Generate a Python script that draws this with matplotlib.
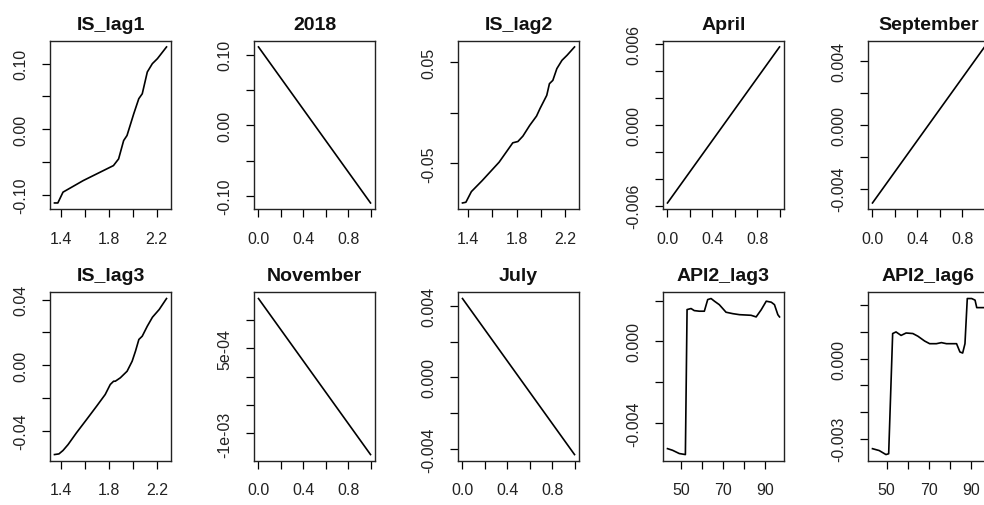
import matplotlib
matplotlib.use("Agg")
import matplotlib.pyplot as plt

plt.rcParams["font.family"] = ["Liberation Sans", "DejaVu Sans"]

# ── Partial-dependence curves ───────────────────────────────────────────
IS_LAG1_X = [1.349, 1.377, 1.420, 1.588, 1.840, 1.883, 1.925, 1.953, 2.009,
             2.051, 2.080, 2.122, 2.164, 2.206, 2.282]
IS_LAG1_Y = [-0.1125, -0.1125, -0.096, -0.0784, -0.0555, -0.0453, -0.0173,
             -0.0096, 0.0235, 0.0465, 0.0541, 0.0873, 0.100, 0.1076, 0.1255]

Y2018_X = [0.0, 1.0]
Y2018_Y = [0.111, -0.110]

IS_LAG2_X = [1.355, 1.383, 1.428, 1.517, 1.656, 1.768, 1.810, 1.851, 1.907,
             1.963, 1.991, 2.047, 2.069, 2.097, 2.130, 2.172, 2.214, 2.275]
IS_LAG2_Y = [-0.0891, -0.0884, -0.0779, -0.0670, -0.0488, -0.0297, -0.0284,
             -0.0231, -0.0125, -0.0033, 0.0040, 0.0172, 0.0287, 0.0320,
             0.0436, 0.0518, 0.0568, 0.0650]

APRIL_X = [0.0, 1.0]
APRIL_Y = [-0.0058, 0.0058]

SEPTEMBER_X = [0.0, 1.0]
SEPTEMBER_Y = [-0.0049, 0.0049]

IS_LAG3_X = [1.349, 1.386, 1.420, 1.462, 1.532, 1.616, 1.700, 1.771, 1.813,
             1.841, 1.855, 1.897, 1.953, 1.995, 2.023, 2.051, 2.079, 2.121,
             2.164, 2.220, 2.281]
IS_LAG3_Y = [-0.0546, -0.0542, -0.0521, -0.0485, -0.0413, -0.0332, -0.0250,
             -0.0179, -0.0118, -0.0098, -0.0098, -0.0077, -0.0037, 0.0024,
             0.0086, 0.0157, 0.0177, 0.0238, 0.0293, 0.0340, 0.0407]

NOVEMBER_X = [0.0, 1.0]
NOVEMBER_Y = [0.00137, -0.00137]

JULY_X = [0.0, 1.0]
JULY_Y = [0.0044, -0.0043]

API2_LAG3_X = [43.6, 46.0, 49.2, 52.1, 52.9, 54.8, 56.3, 58.7, 61.1, 62.7,
               64.3, 65.9, 68.2, 71.4, 74.6, 77.8, 83.3, 85.7, 88.1, 90.5,
               92.9, 94.4, 96.0, 96.8]
API2_LAG3_Y = [-0.00525, -0.00533, -0.00549, -0.00554, 0.00156, 0.00161,
               0.00151, 0.00148, 0.00148, 0.00205, 0.00210, 0.00197, 0.00180,
               0.00143, 0.00136, 0.00131, 0.00128, 0.00120, 0.00155, 0.00197,
               0.00192, 0.00180, 0.00131, 0.00120]

API2_LAG6_X = [43.3, 46.5, 49.7, 51.0, 52.9, 54.5, 56.9, 59.3, 62.5, 64.9,
               68.1, 70.5, 73.7, 76.1, 78.5, 83.3, 84.9, 86.2, 87.3, 88.4,
               90.5, 92.1, 92.9, 96.1, 96.6]
API2_LAG6_Y = [-0.00337, -0.00344, -0.00359, -0.00356, 0.00094, 0.00100,
               0.00087, 0.00096, 0.00094, 0.00084, 0.00066, 0.00056, 0.00056,
               0.00060, 0.00056, 0.00056, 0.00025, 0.00021, 0.00056, 0.00225,
               0.00225, 0.00219, 0.00191, 0.00191, 0.00191]

# ── Axis ticks and labels (R skips labels that would overlap) ───────────
IS_X_TICKS = [1.4, 1.6, 1.8, 2.0, 2.2]
IS_X_LABELS = ["1.4", "", "1.8", "", "2.2"]
UNIT_X_TICKS = [0.0, 0.2, 0.4, 0.6, 0.8, 1.0]
UNIT_X_LABELS = ["0.0", "", "0.4", "", "0.8", ""]
API_X_TICKS = [50, 60, 70, 80, 90]
API_X_LABELS = ["50", "", "70", "", "90"]

IS_LAG1_Y_TICKS = [-0.10, -0.05, 0.00, 0.05, 0.10]
IS_LAG1_Y_LABELS = ["-0.10", "", "0.00", "", "0.10"]
Y2018_Y_TICKS = [-0.10, -0.05, 0.00, 0.05, 0.10]
Y2018_Y_LABELS = ["-0.10", "", "0.00", "", "0.10"]
IS_LAG2_Y_TICKS = [-0.05, 0.00, 0.05]
IS_LAG2_Y_LABELS = ["-0.05", "", "0.05"]
APRIL_Y_TICKS = [-0.006, -0.004, -0.002, 0.0, 0.002, 0.004, 0.006]
APRIL_Y_LABELS = ["-0.006", "", "", "0.000", "", "", "0.006"]
SEPTEMBER_Y_TICKS = [-0.004, -0.002, 0.0, 0.002, 0.004]
SEPTEMBER_Y_LABELS = ["-0.004", "", "0.000", "", "0.004"]
IS_LAG3_Y_TICKS = [-0.04, -0.02, 0.00, 0.02, 0.04]
IS_LAG3_Y_LABELS = ["-0.04", "", "0.00", "", "0.04"]
NOVEMBER_Y_TICKS = [-0.001, -0.0005, 0.0, 0.0005, 0.001]
NOVEMBER_Y_LABELS = ["-1e-03", "", "", "5e-04", ""]
JULY_Y_TICKS = [-0.004, -0.002, 0.0, 0.002, 0.004]
JULY_Y_LABELS = ["-0.004", "", "0.000", "", "0.004"]
API2_LAG3_Y_TICKS = [-0.004, -0.002, 0.0, 0.002]
API2_LAG3_Y_LABELS = ["-0.004", "", "0.000", ""]
API2_LAG6_Y_TICKS = [-0.003, -0.002, -0.001, 0.0, 0.001, 0.002]
API2_LAG6_Y_LABELS = ["-0.003", "", "", "0.000", "", ""]

PANELS = [
    ("IS_lag1", IS_LAG1_X, IS_LAG1_Y, IS_X_TICKS, IS_X_LABELS, IS_LAG1_Y_TICKS, IS_LAG1_Y_LABELS),
    ("2018", Y2018_X, Y2018_Y, UNIT_X_TICKS, UNIT_X_LABELS, Y2018_Y_TICKS, Y2018_Y_LABELS),
    ("IS_lag2", IS_LAG2_X, IS_LAG2_Y, IS_X_TICKS, IS_X_LABELS, IS_LAG2_Y_TICKS, IS_LAG2_Y_LABELS),
    ("April", APRIL_X, APRIL_Y, UNIT_X_TICKS, UNIT_X_LABELS, APRIL_Y_TICKS, APRIL_Y_LABELS),
    ("September", SEPTEMBER_X, SEPTEMBER_Y, UNIT_X_TICKS, UNIT_X_LABELS, SEPTEMBER_Y_TICKS, SEPTEMBER_Y_LABELS),
    ("IS_lag3", IS_LAG3_X, IS_LAG3_Y, IS_X_TICKS, IS_X_LABELS, IS_LAG3_Y_TICKS, IS_LAG3_Y_LABELS),
    ("November", NOVEMBER_X, NOVEMBER_Y, UNIT_X_TICKS, UNIT_X_LABELS, NOVEMBER_Y_TICKS, NOVEMBER_Y_LABELS),
    ("July", JULY_X, JULY_Y, UNIT_X_TICKS, UNIT_X_LABELS, JULY_Y_TICKS, JULY_Y_LABELS),
    ("API2_lag3", API2_LAG3_X, API2_LAG3_Y, API_X_TICKS, API_X_LABELS, API2_LAG3_Y_TICKS, API2_LAG3_Y_LABELS),
    ("API2_lag6", API2_LAG6_X, API2_LAG6_Y, API_X_TICKS, API_X_LABELS, API2_LAG6_Y_TICKS, API2_LAG6_Y_LABELS),
]

# ── Layout (pixels; the right column runs off the canvas like the original) ──
FIG_W, FIG_H, DPI = 984, 506, 100
COL_LEFT = [50, 254, 458, 663, 868]
ROW_TOP = [41.7, 293.3]
AX_W, AX_H = 121, 168.5


def main():
    fig = plt.figure(figsize=(FIG_W / DPI, FIG_H / DPI), dpi=DPI)

    for i, (title, xs, ys, xt, xtl, yt, ytl) in enumerate(PANELS):
        row, col = divmod(i, 5)
        left = COL_LEFT[col] / FIG_W
        bottom = (FIG_H - ROW_TOP[row] - AX_H) / FIG_H
        ax = fig.add_axes([left, bottom, AX_W / FIG_W, AX_H / FIG_H])

        ax.plot(xs, ys, color="black", linewidth=1.2)
        ax.margins(x=0.04, y=0.04)

        ax.set_xticks(xt)
        ax.set_xticklabels(xtl)
        ax.set_yticks(yt)
        ax.set_yticklabels(ytl, rotation=90, va="center")

        ax.tick_params(direction="out", length=6, width=0.9, labelsize=11.5,
                       color="black", labelcolor="#222222")
        ax.tick_params(axis="x", pad=9.5)
        ax.tick_params(axis="y", pad=9.5)
        for spine in ax.spines.values():
            spine.set_linewidth(1.0)
            spine.set_color("#222222")

        ax.set_title(title, fontsize=14, fontweight="bold", pad=8.5, color="#111111")

    fig.savefig("out.png", dpi=DPI, facecolor="white")
    plt.close(fig)


if __name__ == "__main__":
    main()
